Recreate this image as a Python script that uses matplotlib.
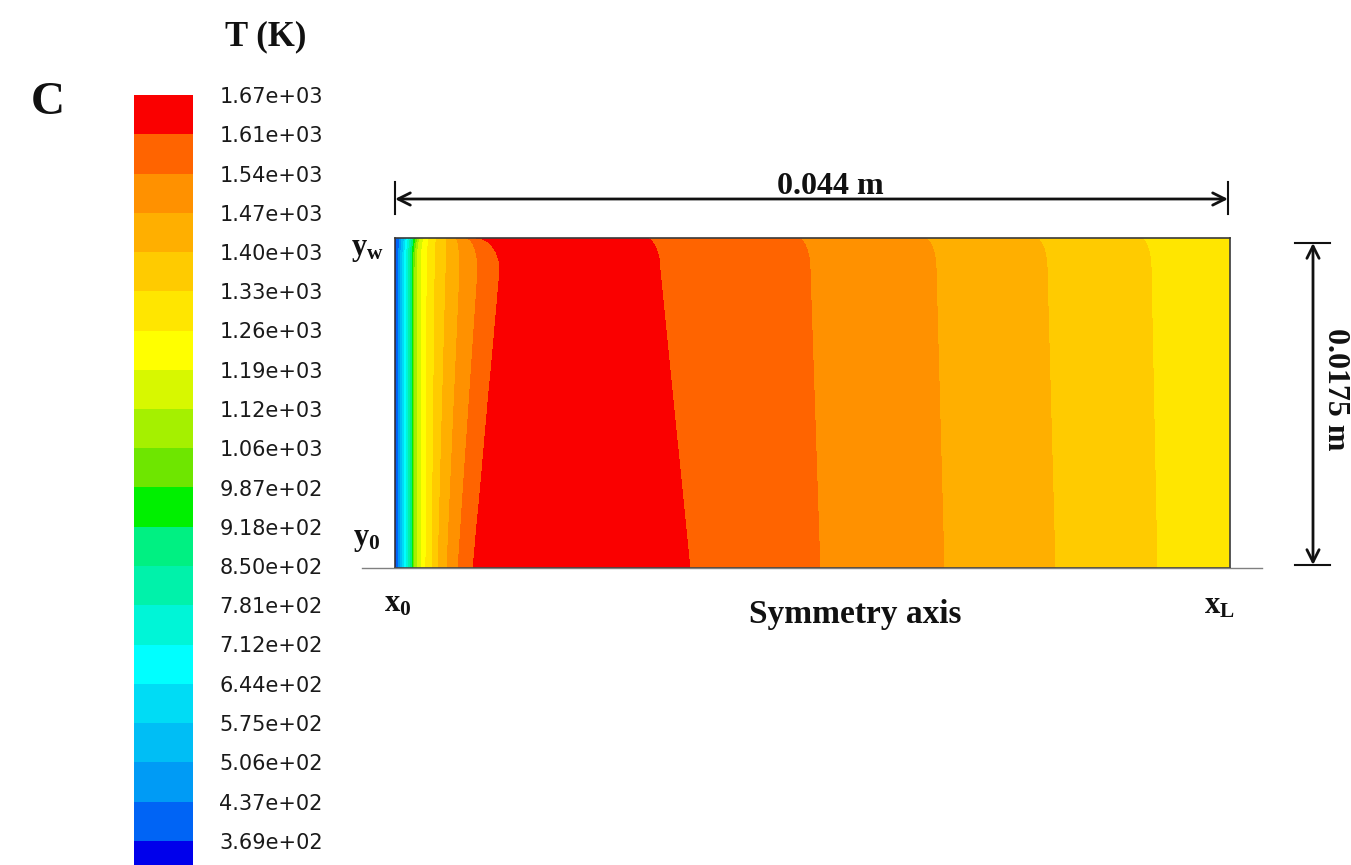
import numpy as np
import matplotlib
matplotlib.use("Agg")
import matplotlib.pyplot as plt

plt.rcParams['mathtext.fontset'] = 'custom'
plt.rcParams['mathtext.bf'] = 'Liberation Serif:bold'
plt.rcParams['mathtext.rm'] = 'Liberation Serif:bold'
plt.rcParams['mathtext.it'] = 'Liberation Serif:bold'

# ---------------- data ----------------
level_values = [300, 369, 437, 506, 575, 644, 712, 781, 850, 918, 987,
                1060, 1120, 1190, 1260, 1330, 1400, 1470, 1540, 1610, 1670]
tick_labels = ["3.69e+02", "4.37e+02", "5.06e+02", "5.75e+02", "6.44e+02",
               "7.12e+02", "7.81e+02", "8.50e+02", "9.18e+02", "9.87e+02",
               "1.06e+03", "1.12e+03", "1.19e+03", "1.26e+03", "1.33e+03",
               "1.40e+03", "1.47e+03", "1.54e+03", "1.61e+03", "1.67e+03"]
band_colors = ["#0000eb", "#0064f5", "#009bf5", "#00bef5", "#00dcf5",
               "#00ffff", "#00f5d7", "#00f2aa", "#00f082", "#00f000",
               "#6ee600", "#a5f000", "#d7f800", "#ffff00", "#ffe600",
               "#ffcb00", "#ffaf00", "#ff9100", "#ff6400", "#fa0000"]

length_mm = 44.0
radius_mm = 17.5
row_heights_mm = [0.0, 15.8, 17.5]          # symmetry axis, near wall, wall
inlet_T = 300
peak_T = 1665
rise_levels = level_values[1:20]            # 369 ... 1610
fall_levels = [1610, 1540, 1470, 1400, 1330]
rise_axis_mm = [0.10, 0.20, 0.30, 0.40, 0.50, 0.60, 0.70, 0.80, 0.90, 0.97,
                1.05, 1.16, 1.37, 1.63, 1.95, 2.27, 2.74, 3.32, 4.11]
rise_near_mm = [0.10, 0.20, 0.30, 0.40, 0.50, 0.60, 0.70, 0.80, 0.90, 0.97,
                1.05, 1.16, 1.37, 1.69, 2.11, 2.69, 3.42, 4.37, 5.53]
rise_wall_mm = [0.10, 0.24, 0.37, 0.53, 0.63, 0.74, 0.84, 0.95, 1.05, 1.16,
                1.26, 1.37, 1.58, 1.84, 2.21, 2.69, 3.21, 3.74, 4.27]
peak_x_mm = [9.75, 9.5, 9.0]
fall_axis_mm = [15.54, 22.39, 28.93, 34.78, 40.15]
fall_near_mm = [13.96, 21.87, 28.51, 34.36, 39.84]
fall_wall_mm = [13.17, 21.18, 27.87, 33.72, 39.26]
outlet_T = [1280, 1280, 1275]

# ---------------- field ----------------
def row_xp(rise, peak, fall):
    return np.array([0.0] + rise + [peak] + fall + [length_mm])

rows_xp = [row_xp(rise_axis_mm, peak_x_mm[0], fall_axis_mm),
           row_xp(rise_near_mm, peak_x_mm[1], fall_near_mm),
           row_xp(rise_wall_mm, peak_x_mm[2], fall_wall_mm)]
rows_T = [np.array([inlet_T] + rise_levels + [peak_T] + fall_levels + [oT])
          for oT in outlet_T]

xg = np.linspace(0, length_mm, 1600)
yg = np.linspace(0, radius_mm, 420)
T = np.zeros((yg.size, xg.size))
h1, h2 = row_heights_mm[1], row_heights_mm[2]
for j, yy in enumerate(yg):
    if yy <= h1:
        w = yy / h1
        a, b, ta, tb = rows_xp[0], rows_xp[1], rows_T[0], rows_T[1]
    else:
        t = (yy - h1) / (h2 - h1)
        w = 1 - np.sqrt(max(0.0, 1 - t * t))
        a, b, ta, tb = rows_xp[1], rows_xp[2], rows_T[1], rows_T[2]
    xs = (1 - w) * a + w * b
    ts = (1 - w) * ta + w * tb
    T[j] = np.interp(xg, xs, ts)

# ---------------- figure ----------------
W, H = 1351, 865
fig = plt.figure(figsize=(W / 100, H / 100), dpi=100)
fig.patch.set_facecolor("white")

def fr(x0, y0, x1, y1):
    return [x0 / W, (H - y1) / H, (x1 - x0) / W, (y1 - y0) / H]

ax = fig.add_axes(fr(395, 238, 1230, 568))
cs = ax.contourf(xg, yg, T, levels=level_values, colors=band_colors)
ax.set_xlim(0, length_mm)
ax.set_ylim(0, radius_mm)
ax.set_xticks([])
ax.set_yticks([])
for s in ax.spines.values():
    s.set_color("#3a3a3a")
    s.set_linewidth(1.2)

cax = fig.add_axes(fr(134, 95, 193, 880))
cb = fig.colorbar(cs, cax=cax, spacing="uniform", ticks=level_values[1:])
cb.ax.set_yticklabels(tick_labels)
cb.ax.tick_params(length=0, pad=19, labelsize=15, labelcolor="#1a1a1a")
for lab in cb.ax.get_yticklabels():
    lab.set_family("DejaVu Sans")
cb.outline.set_visible(False)

# overlay in pixel coordinates
ov = fig.add_axes([0, 0, 1, 1])
ov.set_xlim(0, W)
ov.set_ylim(H, 0)
ov.axis("off")
ov.patch.set_alpha(0)

serif = dict(family="Liberation Serif", fontweight="bold", color="#111111",
             ha="center", va="center")
ov.text(48, 103, "C", fontsize=34, **serif)
ov.text(266, 37, "T (K)", fontsize=25, **serif)
ov.text(830, 186, "0.044 m", fontsize=23, **serif)
ov.text(1336, 389, "0.0175 m", fontsize=23, rotation=-90, **serif)
ov.text(855, 615, "Symmetry axis", fontsize=24, **serif)
ov.text(367, 249, r"$\mathbf{y}_{\mathbf{w}}$", fontsize=22, **serif)
ov.text(367, 540, r"$\mathbf{y}_{\mathbf{0}}$", fontsize=22, **serif)
ov.text(398, 604, r"$\mathbf{x}_{\mathbf{0}}$", fontsize=22, **serif)
ov.text(1219, 606, r"$\mathbf{x}_{\mathbf{L}}$", fontsize=22, **serif)

# symmetry axis line
ov.plot([362, 1262], [568, 568], color="#808080", lw=1)

# horizontal dimension
arrow = dict(arrowstyle="<->", lw=2, color="#111111", mutation_scale=22,
             shrinkA=0, shrinkB=0)
ov.annotate("", xy=(395, 199), xytext=(1228, 199), arrowprops=arrow)
ov.plot([395, 395], [182, 214], color="#111111", lw=1.5)
ov.plot([1228, 1228], [182, 214], color="#111111", lw=1.5)
# vertical dimension
ov.annotate("", xy=(1313, 243), xytext=(1313, 565), arrowprops=arrow)
ov.plot([1295, 1330], [243, 243], color="#111111", lw=1.5)
ov.plot([1295, 1330], [565, 565], color="#111111", lw=1.5)

fig.savefig("out.png", dpi=100, facecolor="white")
